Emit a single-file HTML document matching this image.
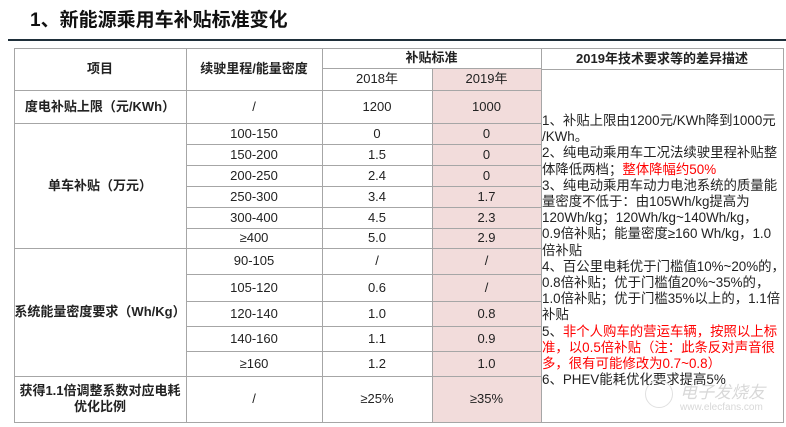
<!DOCTYPE html>
<html><head><meta charset="utf-8"><style>
html,body{margin:0;padding:0;background:#fff;}
body{width:786px;height:427px;position:relative;overflow:hidden;font-family:"Liberation Sans","Noto Sans CJK SC",sans-serif;color:#222;}
.h{position:absolute;height:1px;background:#a6a6a6;}
.v{position:absolute;width:1px;background:#a6a6a6;}
.c{position:absolute;display:flex;align-items:center;justify-content:center;text-align:center;font-size:13px;line-height:16px;}
.b{font-weight:bold;}
.r{color:#ff0000;}
</style></head><body>
<div style="position:absolute;left:30px;top:5px;font-size:19px;font-weight:bold;color:#111;white-space:nowrap;">1、新能源乘用车补贴标准变化</div>
<div style="position:absolute;left:8px;top:39px;width:778px;height:2px;background:#1f2f3a;"></div>

<div style="position:absolute;left:432px;top:68px;width:109px;height:354px;background:#f2dcdb;"></div>

<div class="h" style="left:14px;top:48px;width:770px;"></div>
<div class="h" style="left:322px;top:68px;width:219px;"></div>
<div class="h" style="left:541px;top:69px;width:242px;"></div>
<div class="h" style="left:14px;top:90px;width:527px;"></div>
<div class="h" style="left:14px;top:123px;width:527px;"></div>
<div class="h" style="left:186px;top:144px;width:355px;"></div>
<div class="h" style="left:186px;top:165px;width:355px;"></div>
<div class="h" style="left:186px;top:186px;width:355px;"></div>
<div class="h" style="left:186px;top:207px;width:355px;"></div>
<div class="h" style="left:186px;top:228px;width:355px;"></div>
<div class="h" style="left:14px;top:248px;width:527px;"></div>
<div class="h" style="left:186px;top:274px;width:355px;"></div>
<div class="h" style="left:186px;top:301px;width:355px;"></div>
<div class="h" style="left:186px;top:326px;width:355px;"></div>
<div class="h" style="left:186px;top:351px;width:355px;"></div>
<div class="h" style="left:14px;top:376px;width:527px;"></div>
<div class="h" style="left:14px;top:422px;width:770px;"></div>
<div class="v" style="left:14px;top:48px;height:375px;"></div>
<div class="v" style="left:186px;top:48px;height:375px;"></div>
<div class="v" style="left:322px;top:48px;height:375px;"></div>
<div class="v" style="left:432px;top:68px;height:355px;"></div>
<div class="v" style="left:541px;top:48px;height:375px;"></div>
<div class="v" style="left:783px;top:48px;height:375px;"></div>

<div class="c b" style="left:14px;top:48px;width:172px;height:42px;">项目</div>
<div class="c b" style="left:186px;top:48px;width:136px;height:42px;">续驶里程/能量密度</div>
<div class="c b" style="left:322px;top:48px;width:219px;height:20px;">补贴标准</div>
<div class="c" style="left:322px;top:68px;width:110px;height:22px;">2018年</div>
<div class="c" style="left:432px;top:68px;width:109px;height:22px;">2019年</div>
<div class="c b" style="left:541px;top:48px;width:242px;height:21px;">2019年技术要求等的差异描述</div>

<div class="c b" style="left:14px;top:90px;width:172px;height:33px;">度电补贴上限（元/KWh）</div>
<div class="c" style="left:186px;top:90px;width:136px;height:33px;">/</div>
<div class="c" style="left:322px;top:90px;width:110px;height:33px;">1200</div>
<div class="c" style="left:432px;top:90px;width:109px;height:33px;">1000</div>

<div class="c b" style="left:14px;top:123px;width:172px;height:125px;">单车补贴（万元）</div>
<div class="c" style="left:186px;top:123px;width:136px;height:21px;">100-150</div>
<div class="c" style="left:322px;top:123px;width:110px;height:21px;">0</div>
<div class="c" style="left:432px;top:123px;width:109px;height:21px;">0</div>
<div class="c" style="left:186px;top:144px;width:136px;height:21px;">150-200</div>
<div class="c" style="left:322px;top:144px;width:110px;height:21px;">1.5</div>
<div class="c" style="left:432px;top:144px;width:109px;height:21px;">0</div>
<div class="c" style="left:186px;top:165px;width:136px;height:21px;">200-250</div>
<div class="c" style="left:322px;top:165px;width:110px;height:21px;">2.4</div>
<div class="c" style="left:432px;top:165px;width:109px;height:21px;">0</div>
<div class="c" style="left:186px;top:186px;width:136px;height:21px;">250-300</div>
<div class="c" style="left:322px;top:186px;width:110px;height:21px;">3.4</div>
<div class="c" style="left:432px;top:186px;width:109px;height:21px;">1.7</div>
<div class="c" style="left:186px;top:207px;width:136px;height:21px;">300-400</div>
<div class="c" style="left:322px;top:207px;width:110px;height:21px;">4.5</div>
<div class="c" style="left:432px;top:207px;width:109px;height:21px;">2.3</div>
<div class="c" style="left:186px;top:228px;width:136px;height:20px;">≥400</div>
<div class="c" style="left:322px;top:228px;width:110px;height:20px;">5.0</div>
<div class="c" style="left:432px;top:228px;width:109px;height:20px;">2.9</div>

<div class="c b" style="left:14px;top:248px;width:172px;height:128px;white-space:nowrap;">系统能量密度要求（Wh/Kg）</div>
<div class="c" style="left:186px;top:248px;width:136px;height:26px;">90-105</div>
<div class="c" style="left:322px;top:248px;width:110px;height:26px;">/</div>
<div class="c" style="left:432px;top:248px;width:109px;height:26px;">/</div>
<div class="c" style="left:186px;top:274px;width:136px;height:27px;">105-120</div>
<div class="c" style="left:322px;top:274px;width:110px;height:27px;">0.6</div>
<div class="c" style="left:432px;top:274px;width:109px;height:27px;">/</div>
<div class="c" style="left:186px;top:301px;width:136px;height:25px;">120-140</div>
<div class="c" style="left:322px;top:301px;width:110px;height:25px;">1.0</div>
<div class="c" style="left:432px;top:301px;width:109px;height:25px;">0.8</div>
<div class="c" style="left:186px;top:326px;width:136px;height:25px;">140-160</div>
<div class="c" style="left:322px;top:326px;width:110px;height:25px;">1.1</div>
<div class="c" style="left:432px;top:326px;width:109px;height:25px;">0.9</div>
<div class="c" style="left:186px;top:351px;width:136px;height:25px;">≥160</div>
<div class="c" style="left:322px;top:351px;width:110px;height:25px;">1.2</div>
<div class="c" style="left:432px;top:351px;width:109px;height:25px;">1.0</div>

<div class="c b" style="left:14px;top:376px;width:172px;height:46px;">获得1.1倍调整系数对应电耗<br>优化比例</div>
<div class="c" style="left:186px;top:376px;width:136px;height:46px;">/</div>
<div class="c" style="left:322px;top:376px;width:110px;height:46px;">≥25%</div>
<div class="c" style="left:432px;top:376px;width:109px;height:46px;">≥35%</div>

<div style="position:absolute;left:542px;top:113px;width:241px;font-size:13.4px;line-height:16.2px;white-space:nowrap;color:#222;">
1、补贴上限由1200元/KWh降到1000元<br>/KWh。<br>
2、纯电动乘用车工况法续驶里程补贴整<br>体降低两档；<span class="r">整体降幅约50%</span><br>
3、纯电动乘用车动力电池系统的质量能<br>量密度不低于：由105Wh/kg提高为<br>120Wh/kg；120Wh/kg~140Wh/kg，<br>0.9倍补贴；能量密度≥160 Wh/kg，1.0<br>倍补贴<br>
4、百公里电耗优于门槛值10%~20%的，<br>0.8倍补贴；优于门槛值20%~35%的，<br>1.0倍补贴；优于门槛35%以上的，1.1倍<br>补贴<br>
5、<span class="r">非个人购车的营运车辆，按照以上标<br>准，以0.5倍补贴（注：此条反对声音很<br>多，很有可能修改为0.7~0.8）</span><br>
6、PHEV能耗优化要求提高5%
</div>

<div style="position:absolute;left:680px;top:378px;font-size:17px;font-style:italic;color:#d8d8d8;white-space:nowrap;">电子发烧友</div>
<div style="position:absolute;left:680px;top:402px;font-size:10px;color:#d8d8d8;white-space:nowrap;">www.elecfans.com</div>
<div style="position:absolute;left:645px;top:380px;width:26px;height:26px;border:1.5px solid #e0e0e0;border-radius:50%;"></div>
</body></html>
